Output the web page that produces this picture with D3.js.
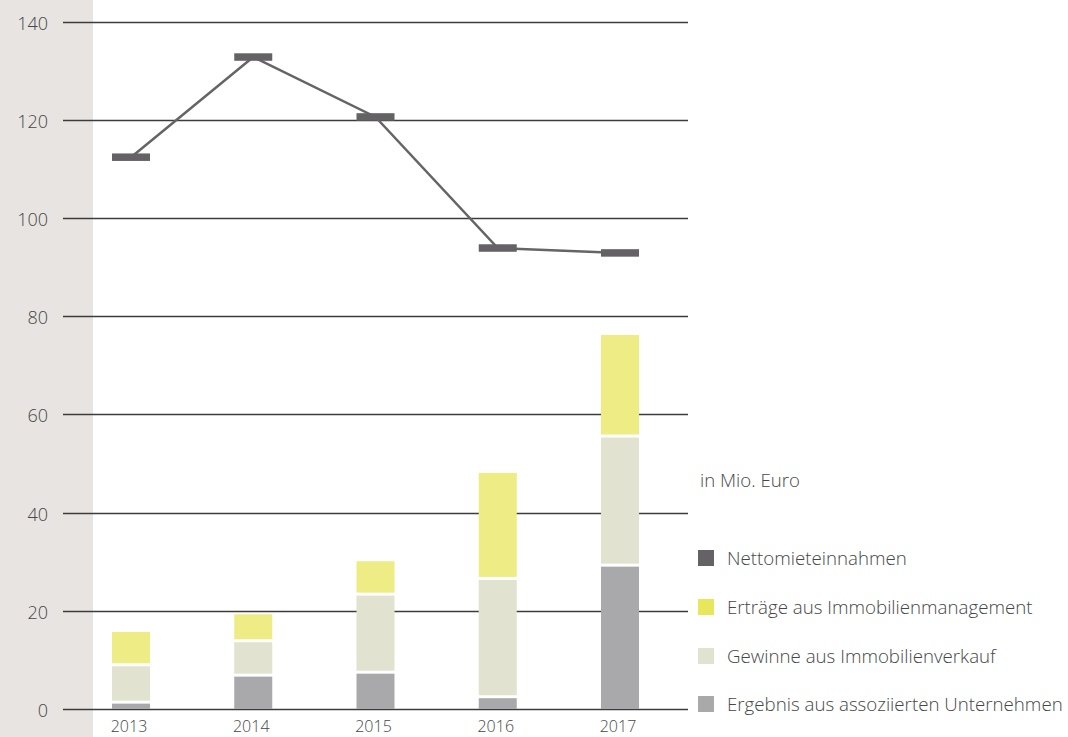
<!DOCTYPE html>
<html>
<head>
<meta charset="utf-8">
<script src="https://cdn.jsdelivr.net/npm/d3@7/dist/d3.min.js"></script>
<style>
  html, body { margin: 0; padding: 0; background: #ffffff; }
  svg { display: block; }
  text { font-family: "Open Sans", "Noto Sans", sans-serif; font-weight: 300; fill: #464646; }
</style>
</head>
<body>
<svg id="chart" width="1068" height="737"></svg>
<script>
// ---- data ----
const years = ["2013", "2014", "2015", "2016", "2017"];
const nettomieteinnahmen = [112.4, 132.8, 120.6, 93.9, 92.9];
const ergebnisAssoziiert = [1.4, 6.9, 7.5, 2.5, 29.3];
const gewinneVerkauf = [7.6, 7.0, 15.9, 24.1, 26.3];
const ertraegeManagement = [6.7, 5.4, 6.7, 21.5, 20.6];
const yTicks = [0, 20, 40, 60, 80, 100, 120, 140];
const unitLabel = "in Mio. Euro";
const legendLabels = ["Nettomieteinnahmen", "Erträge aus Immobilienmanagement", "Gewinne aus Immobilienverkauf", "Ergebnis aus assoziierten Unternehmen"];

// ---- styles ----
const colLine = "#656265";
const colMgmtBar = "#eeec84";
const colMgmtLegend = "#e8e65a";
const colVerkauf = "#e1e2cf";
const colAssoz = "#a9a9ab";
const colBand = "#e8e4e1";

const svg = d3.select("#chart");
const W = 1068, H = 737;

const y = d3.scaleLinear().domain([0, 140]).range([709, 21.7]);
const x = d3.scalePoint().domain(years).range([131, 620]);
const barW = 38;

// left band
svg.append("rect").attr("x", 0).attr("y", 0).attr("width", 93).attr("height", H).attr("fill", colBand);

// gridlines
svg.append("g").selectAll("line").data(yTicks).join("line")
  .attr("x1", 63).attr("x2", 688)
  .attr("y1", d => Math.round(y(d)) + 0.5).attr("y2", d => Math.round(y(d)) + 0.5)
  .attr("stroke", "#3c3c3c").attr("stroke-width", 1.3);

// y labels
svg.append("g").selectAll("text").data(yTicks).join("text")
  .attr("x", 48).attr("y", d => y(d) + 8)
  .attr("text-anchor", "end").style("font-size", "18px")
  .text(d => d);

// x labels
svg.append("g").selectAll("text").data(years).join("text")
  .attr("x", d => x(d) - 2).attr("y", 732)
  .attr("text-anchor", "middle").style("font-size", "16px")
  .text(d => d);

// stacked bars
const stackData = years.map((yr, i) => ({
  year: yr,
  assoz: ergebnisAssoziiert[i],
  verkauf: gewinneVerkauf[i],
  mgmt: ertraegeManagement[i]
}));
const keys = ["assoz", "verkauf", "mgmt"];
const colors = { assoz: colAssoz, verkauf: colVerkauf, mgmt: colMgmtBar };
const series = d3.stack().keys(keys)(stackData);
const gap = 1.5;
series.forEach((s, si) => {
  svg.append("g").selectAll("rect").data(s).join("rect")
    .attr("x", d => x(d.data.year) - barW / 2)
    .attr("width", barW)
    .attr("y", d => y(d[1]) + (si === keys.length - 1 ? 0 : gap))
    .attr("height", d => {
      const top = y(d[1]) + (si === keys.length - 1 ? 0 : gap);
      const bot = y(d[0]) - (si === 0 ? 0 : gap);
      return Math.max(0, bot - top);
    })
    .attr("fill", colors[s.key]);
});

// line
const lineData = years.map((yr, i) => ({ year: yr, v: nettomieteinnahmen[i] }));
svg.append("path").datum(lineData)
  .attr("d", d3.line().x(d => x(d.year)).y(d => y(d.v)))
  .attr("fill", "none").attr("stroke", "#666466").attr("stroke-width", 2.5);
svg.append("g").selectAll("rect").data(lineData).join("rect")
  .attr("x", d => x(d.year) - barW / 2).attr("width", barW)
  .attr("y", d => y(d.v) - 3.75).attr("height", 7.5)
  .attr("fill", colLine);

// unit label
svg.append("text").attr("x", 700).attr("y", 487).style("font-size", "18.6px").text(unitLabel);

// legend
const legendColors = [colLine, colMgmtLegend, colVerkauf, colAssoz];
const legendY = [558, 607, 656, 704];
const lg = svg.append("g");
legendLabels.forEach((lab, i) => {
  lg.append("rect").attr("x", 698).attr("y", legendY[i] - 8).attr("width", 16).attr("height", 16).attr("fill", legendColors[i]);
  lg.append("text").attr("x", 727).attr("y", legendY[i] + 7).style("font-size", "18.7px").text(lab);
});
</script>
</body>
</html>
